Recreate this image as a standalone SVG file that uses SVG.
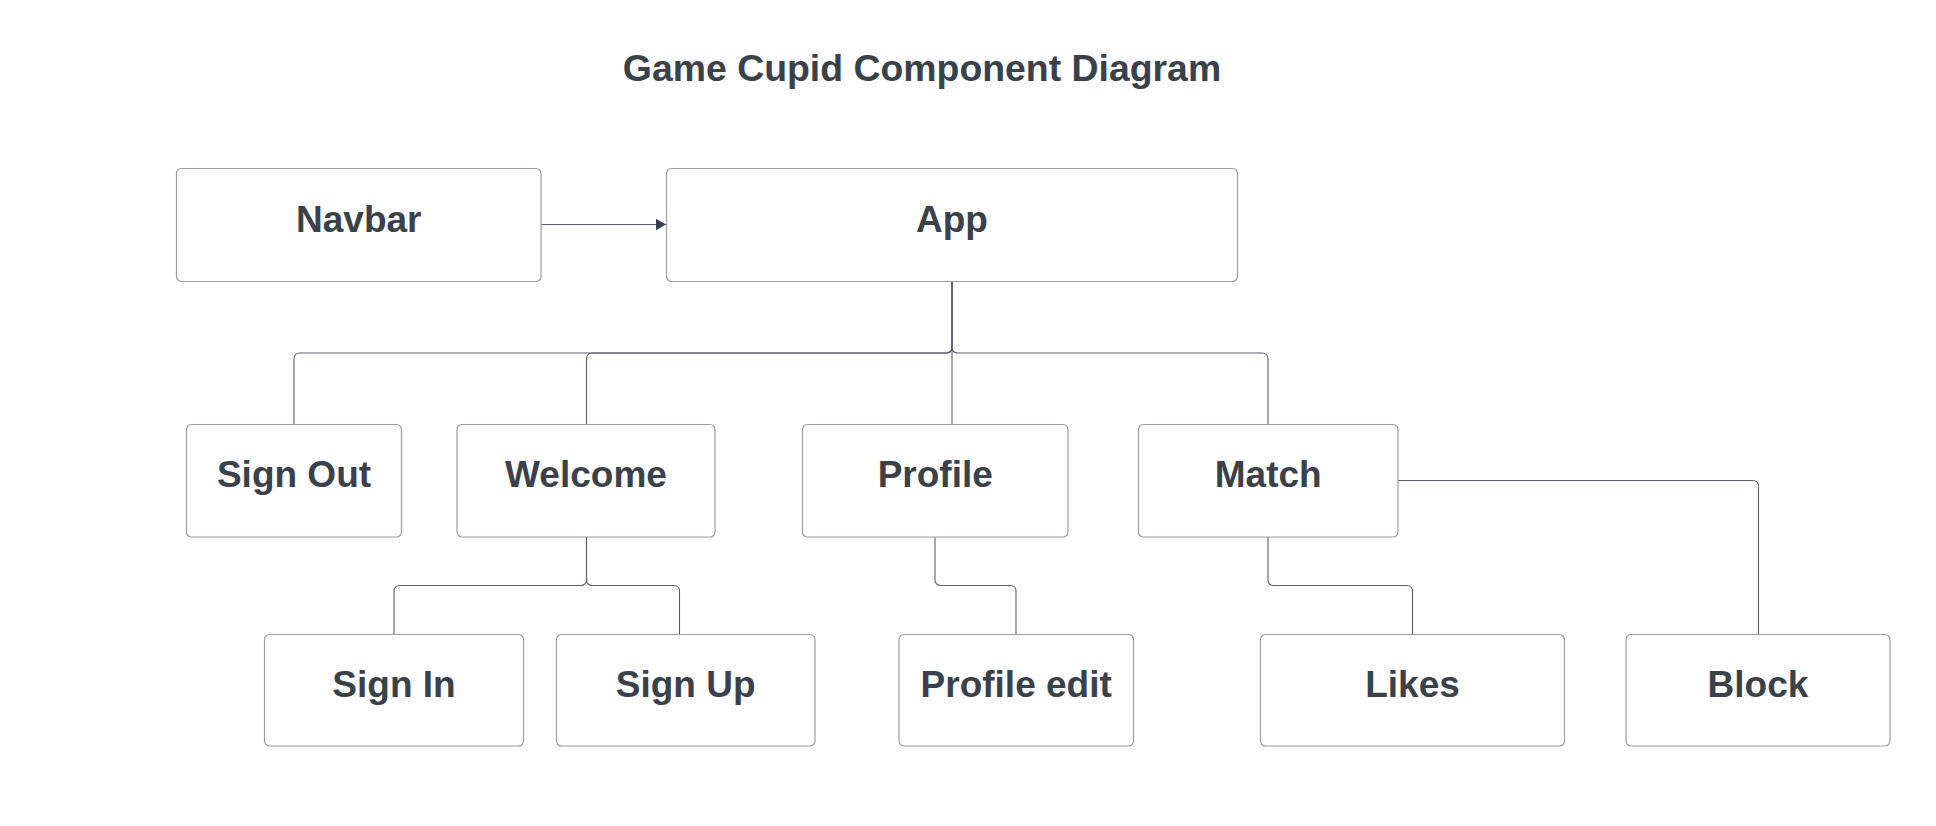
<svg xmlns="http://www.w3.org/2000/svg" width="1936" height="826" viewBox="0 0 1936 826">
<style>
.box{fill:#ffffff;stroke:#9a9da3;stroke-width:1.2}
.lbl{font-family:"Liberation Sans",Arial,sans-serif;font-weight:bold;font-size:37px;fill:#3a414a;text-anchor:middle}
.title{font-family:"Liberation Sans",Arial,sans-serif;font-weight:bold;font-size:37.4px;fill:#3a414a;text-anchor:middle}
.con{fill:none;stroke:#5a5f68;stroke-width:1.1}
</style>
<defs>
<marker id="arr" markerWidth="12" markerHeight="14" refX="10.5" refY="6" orient="auto" markerUnits="userSpaceOnUse">
<path d="M0,0 L10.5,6 L0,12 Z" fill="#3a414a"/>
</marker>
</defs>
<rect width="1936" height="826" fill="#ffffff"/>
<text class="title" x="922" y="81">Game Cupid Component Diagram</text>
<g id="connectors">
<path class="con" d="M541,224.5 H666" marker-end="url(#arr)"/>
<path class="con" d="M952,281.5 V347 Q952,353 946,353 H300 Q294,353 294,359 V425"/>
<path class="con" d="M952,281.5 V347 Q952,353 946,353 H592.5 Q586.5,353 586.5,359 V425"/>
<path class="con" d="M952,281.5 V425"/>
<path class="con" d="M952,281.5 V347 Q952,353 958,353 H1262 Q1268,353 1268,359 V425"/>
<path class="con" d="M1398,480.5 H1752.5 Q1758.5,480.5 1758.5,486.5 V634.5"/>
<path class="con" d="M586.5,537 V579.5 Q586.5,585.5 580.5,585.5 H400 Q394,585.5 394,591.5 V634.5"/>
<path class="con" d="M586.5,537 V579.5 Q586.5,585.5 592.5,585.5 H673.5 Q679.5,585.5 679.5,591.5 V634.5"/>
<path class="con" d="M935,537 V579.5 Q935,585.5 941,585.5 H1010 Q1016,585.5 1016,591.5 V634.5"/>
<path class="con" d="M1268,537 V579.5 Q1268,585.5 1274,585.5 H1406.5 Q1412.5,585.5 1412.5,591.5 V634.5"/>
</g>
<g id="navbar"><rect class="box" x="176.5" y="168.5" width="364.5" height="113" rx="5"/><text class="lbl" x="358.8" y="232">Navbar</text></g>
<g id="app"><rect class="box" x="666.5" y="168.5" width="571" height="113" rx="5"/><text class="lbl" x="952" y="232">App</text></g>
<g id="signout"><rect class="box" x="186.5" y="424.5" width="215" height="112.5" rx="5"/><text class="lbl" x="294" y="487">Sign Out</text></g>
<g id="welcome"><rect class="box" x="457" y="424.5" width="258" height="112.5" rx="5"/><text class="lbl" x="586" y="487">Welcome</text></g>
<g id="profile"><rect class="box" x="802.5" y="424.5" width="265.5" height="112.5" rx="5"/><text class="lbl" x="935.2" y="487">Profile</text></g>
<g id="match"><rect class="box" x="1138.5" y="424.5" width="259.5" height="112.5" rx="5"/><text class="lbl" x="1268.2" y="487">Match</text></g>
<g id="signin"><rect class="box" x="264.5" y="634.5" width="259" height="111.5" rx="5"/><text class="lbl" x="394" y="697">Sign In</text></g>
<g id="signup"><rect class="box" x="556.5" y="634.5" width="258.5" height="111.5" rx="5"/><text class="lbl" x="685.7" y="697">Sign Up</text></g>
<g id="profileedit"><rect class="box" x="899" y="634.5" width="234.5" height="111.5" rx="5"/><text class="lbl" x="1016.2" y="697">Profile edit</text></g>
<g id="likes"><rect class="box" x="1260.5" y="634.5" width="304" height="111.5" rx="5"/><text class="lbl" x="1412.5" y="697">Likes</text></g>
<g id="block"><rect class="box" x="1626" y="634.5" width="264" height="111.5" rx="5"/><text class="lbl" x="1758" y="697">Block</text></g>
</svg>
